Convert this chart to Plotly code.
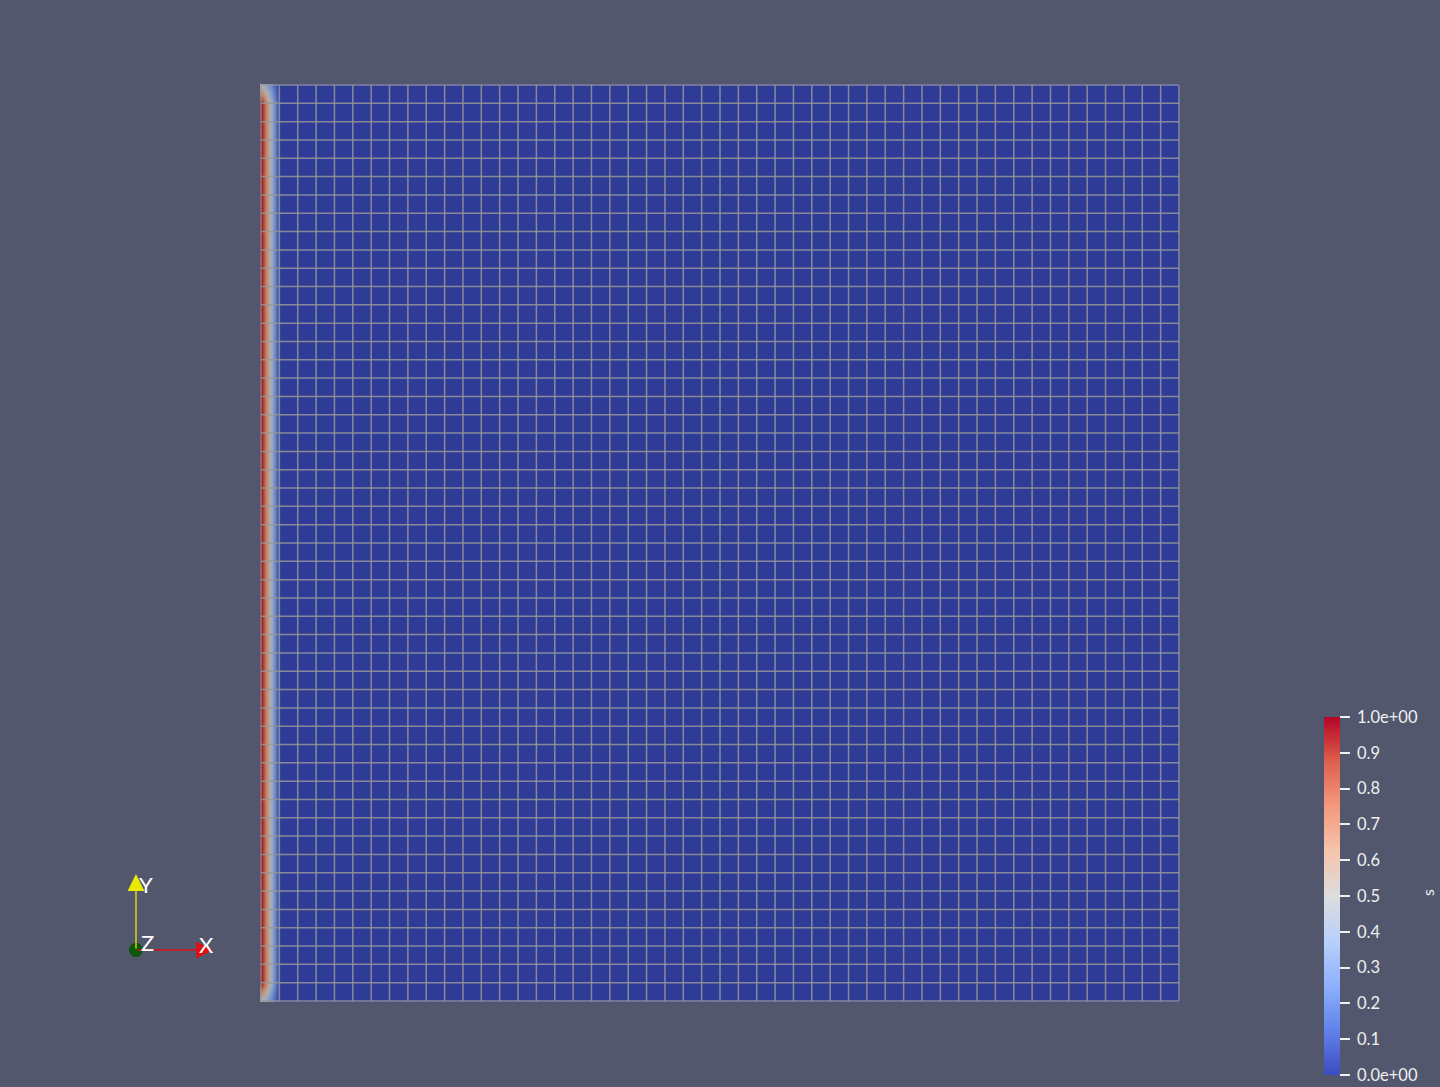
import numpy as np
import plotly.graph_objects as go

# ---- data ----
n_cells = 50
x_nodes = np.linspace(0.0, 1.0, n_cells + 1)
y_nodes = np.linspace(0.0, 1.0, n_cells + 1)
# s on the left boundary column (bottom -> top): corners ~0.5, inner nodes 1
s_left_column = [0.5] + [1.0] * (n_cells - 1) + [0.5]
s_interior = 0.0

cbar_tickvals = [0.0, 0.1, 0.2, 0.3, 0.4, 0.5, 0.6, 0.7, 0.8, 0.9, 1.0]
cbar_ticktext = ["0.0e+00", "0.1", "0.2", "0.3", "0.4", "0.5", "0.6", "0.7", "0.8", "0.9", "1.0e+00"]
field_name = "s"

# build node field
z = [[s_left_column[j] if i == 0 else s_interior for i in range(len(x_nodes))]
     for j in range(len(y_nodes))]

# Cool to Warm colour map
cw = [(0.0, (59, 76, 192)), (0.125, (98, 130, 234)), (0.25, (141, 176, 254)),
      (0.375, (184, 208, 249)), (0.5, (221, 221, 221)), (0.625, (245, 196, 173)),
      (0.75, (244, 154, 123)), (0.875, (222, 96, 77)), (1.0, (180, 4, 38))]
cs_bar = [[p, f"rgb({r},{g},{b})"] for p, (r, g, b) in cw]
shade = 0.79
cs_lit = [[p, f"rgb({int(r*shade)},{int(g*shade)},{int(b*shade)})"] for p, (r, g, b) in cw]

W, H = 1440, 1087
BG = "#52576e"
FONT = "Lato"
TXT = "#f0f0f0"

fig = go.Figure()
fig.add_trace(go.Heatmap(x=x_nodes, y=y_nodes, z=z, zmin=0, zmax=1,
                         colorscale=cs_lit, zsmooth="best", showscale=False,
                         hoverinfo="skip"))

# mesh edges
gx, gy = [], []
for xv in x_nodes:
    gx += [xv, xv, None]
    gy += [y_nodes[0], y_nodes[-1], None]
for yv in y_nodes:
    gx += [x_nodes[0], x_nodes[-1], None]
    gy += [yv, yv, None]
fig.add_trace(go.Scatter(x=gx, y=gy, mode="lines",
                         line=dict(color="rgba(150,150,150,0.85)", width=1.5),
                         hoverinfo="skip", showlegend=False))

# colour bar carrier (points outside the visible range)
fig.add_trace(go.Scatter(
    x=[5, 5], y=[5, 5], mode="markers", showlegend=False, hoverinfo="skip",
    marker=dict(color=[0, 1], cmin=0, cmax=1, colorscale=cs_bar, showscale=True, size=1,
                colorbar=dict(
                    xref="container", yref="container",
                    x=1324 / W, xanchor="left", xpad=0,
                    y=(H - 1075) / H, yanchor="bottom", ypad=0,
                    lenmode="pixels", len=358, thickness=16,
                    outlinewidth=0, ticks="outside", ticklen=10, tickwidth=1.5,
                    tickcolor=TXT,
                    tickvals=cbar_tickvals, ticktext=[" " + t for t in cbar_ticktext],
                    tickfont=dict(family=FONT, size=16.5, color=TXT),
                ))))

px1, px2 = 260, 1180
py1, py2 = 84, 1002
dx = 1.0 / 918
fig.update_layout(
    width=W, height=H, margin=dict(l=0, r=0, t=0, b=0, autoexpand=False),
    paper_bgcolor=BG, plot_bgcolor=BG, showlegend=False,
    xaxis=dict(domain=[px1 / W, px2 / W], range=[-dx, 1 + dx], visible=False,
               showgrid=False, zeroline=False),
    yaxis=dict(domain=[1 - py2 / H, 1 - py1 / H], range=[-dx, 1 + dx], visible=False,
               showgrid=False, zeroline=False),
)

def P(px, py):
    return px / W, 1 - py / H

# colour bar title
a, b = P(1427, 893)
fig.add_annotation(x=a, y=b, xref="paper", yref="paper", text=field_name, showarrow=False,
                   textangle=-90, xanchor="center", yanchor="middle",
                   font=dict(family=FONT, size=16, color=TXT))

# orientation triad (decoration)
ox, oy = 136, 950
xa, ya = P(213, 950)
fig.add_annotation(x=xa, y=ya, xref="paper", yref="paper", ax=-(213 - ox), ay=0,
                   axref="pixel", ayref="pixel", text="", showarrow=True,
                   arrowhead=2, arrowsize=2.6, arrowwidth=1.3, arrowcolor="#e01010")
xa, ya = P(136, 874)
fig.add_annotation(x=xa, y=ya, xref="paper", yref="paper", ax=0, ay=(950 - 874),
                   text="", showarrow=True,
                   arrowhead=2, arrowsize=2.6, arrowwidth=1.3, arrowcolor="#eaea00")
r = 6.5
fig.add_shape(type="circle", xref="paper", yref="paper",
              x0=(ox - r) / W, x1=(ox + r) / W, y0=1 - (oy + r) / H, y1=1 - (oy - r) / H,
              fillcolor="#0b5a0b", line=dict(color="#0b4a0b", width=1))
for t, (lx, ly) in [("Y", (146, 884)), ("Z", (147, 942)), ("X", (207, 944))]:
    a, b = P(lx, ly)
    fig.add_annotation(x=a, y=b, xref="paper", yref="paper", text=t, showarrow=False,
                       xanchor="center", yanchor="middle",
                       font=dict(family=FONT, size=22, color="white"))

fig.write_html("out.html")
